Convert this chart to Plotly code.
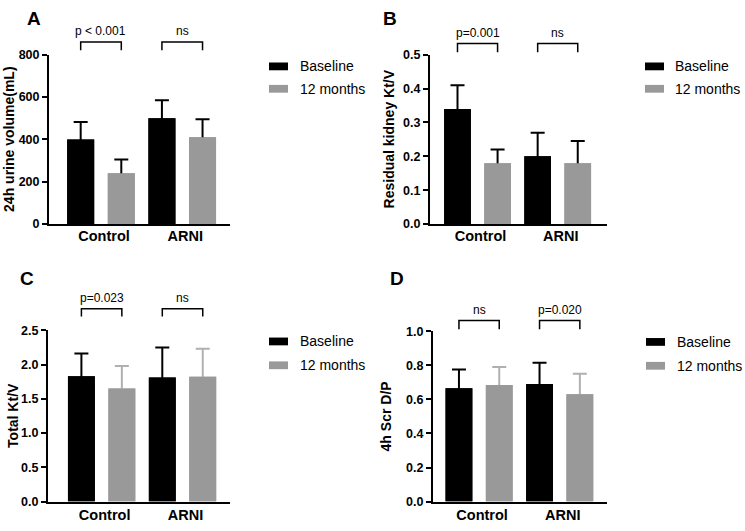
import plotly.graph_objects as go

W, H = 745, 531
FONT = "Arial, 'Liberation Sans', Helvetica, sans-serif"

groups = ["Control", "ARNI"]
series_names = ["Baseline", "12 months"]

# Panel A: 24h urine volume (mL)
a_base = [400, 500]
a_base_sd = [82, 85]
a_12m = [240, 410]
a_12m_sd = [65, 85]
a_pvals = ["p < 0.001", "ns"]
a_ticks = [0, 200, 400, 600, 800]

# Panel B: Residual kidney Kt/V
b_base = [0.34, 0.20]
b_base_sd = [0.07, 0.07]
b_12m = [0.18, 0.18]
b_12m_sd = [0.04, 0.065]
b_pvals = ["p=0.001", "ns"]
b_ticks = [0.0, 0.1, 0.2, 0.3, 0.4, 0.5]

# Panel C: Total Kt/V
c_base = [1.83, 1.81]
c_base_sd = [0.33, 0.44]
c_12m = [1.65, 1.82]
c_12m_sd = [0.33, 0.41]
c_pvals = ["p=0.023", "ns"]
c_ticks = [0.0, 0.5, 1.0, 1.5, 2.0, 2.5]

# Panel D: 4h Scr D/P
d_base = [0.665, 0.69]
d_base_sd = [0.11, 0.125]
d_12m = [0.685, 0.63]
d_12m_sd = [0.105, 0.12]
d_pvals = ["ns", "p=0.020"]
d_ticks = [0.0, 0.2, 0.4, 0.6, 0.8, 1.0]

BLACK = "#000000"
GRAY = "#999999"

panels = [
    dict(letter="A", title="24h urine volume(mL)", base=a_base, base_sd=a_base_sd,
         m12=a_12m, m12_sd=a_12m_sd, pvals=a_pvals, ticks=a_ticks, fmt="d",
         L=49, R=230, T=49, B=223, xr=[-0.64, 1.588], err12=BLACK, xstand=-3,
         letter_xy=(34, 12), title_x=9.5, text_y=24.5, br_top=36, br_bot=44.5,
         leg_x=269, leg_y=(57, 80), txt_x=298),
    dict(letter="B", title="Residual kidney Kt/V", base=b_base, base_sd=b_base_sd,
         m12=b_12m, m12_sd=b_12m_sd, pvals=b_pvals, ticks=b_ticks, fmt=".1f",
         L=430, R=607, T=49, B=223, xr=[-0.593, 1.615], err12=BLACK, xstand=-3,
         letter_xy=(390, 12), title_x=389, text_y=27, br_top=37.5, br_bot=46.5,
         leg_x=645, leg_y=(57, 80), txt_x=673),
    dict(letter="C", title="Total Kt/V", base=c_base, base_sd=c_base_sd,
         m12=c_12m, m12_sd=c_12m_sd, pvals=c_pvals, ticks=c_ticks, fmt=".1f",
         L=48, R=230, T=332, B=508, xr=[-0.663, 1.587], err12="#b0b0b0", xstand=-1,
         letter_xy=(27, 279), title_x=13, text_y=299, br_top=310, br_bot=318,
         leg_x=269, leg_y=(339.5, 364), txt_x=298),
    dict(letter="D", title="4h Scr D/P", base=d_base, base_sd=d_base_sd,
         m12=d_12m, m12_sd=d_12m_sd, pvals=d_pvals, ticks=d_ticks, fmt=".1f",
         L=433, R=607, T=333, B=508, xr=[-0.572, 1.587], err12="#b0b0b0", xstand=-1,
         letter_xy=(397, 279), title_x=386, text_y=311.5, br_top=322, br_bot=331,
         leg_x=646, leg_y=(340, 364.5), txt_x=675),
]

fig = go.Figure()
shapes = []
annotations = []
layout_axes = {}

for i, p in enumerate(panels):
    n = "" if i == 0 else str(i + 1)
    xid, yid = "x" + n, "y" + n
    # bars with error bars (lower half later hidden by identical bars drawn on top)
    for k, (vals, sds, col, ecol) in enumerate([
            (p["base"], p["base_sd"], BLACK, BLACK),
            (p["m12"], p["m12_sd"], GRAY, p["err12"])]):
        fig.add_trace(go.Bar(
            x=groups, y=vals, name=series_names[k], marker_color=col,
            marker_line_width=0, offsetgroup=str(k), xaxis=xid, yaxis=yid,
            showlegend=False,
            error_y=dict(type="data", array=sds, color=ecol, thickness=2, width=7)))
    for k, (vals, col) in enumerate([(p["base"], BLACK), (p["m12"], GRAY)]):
        fig.add_trace(go.Bar(
            x=groups, y=vals, name=series_names[k], marker_color=col,
            marker_line_width=0, offsetgroup=str(k), xaxis=xid, yaxis=yid,
            showlegend=False, hoverinfo="skip"))

    ymax = p["ticks"][-1]
    layout_axes["xaxis" + n] = dict(
        domain=[p["L"] / W, p["R"] / W], range=p["xr"], anchor=yid,
        showline=True, linecolor="black", linewidth=2, ticks="", showgrid=False,
        zeroline=False, type="category", ticklabelstandoff=p["xstand"],
        ticklabelshift=3,
        tickfont=dict(family=FONT, size=14.5, color="black", weight="bold"),
        fixedrange=True)
    layout_axes["yaxis" + n] = dict(
        domain=[1 - p["B"] / H, 1 - p["T"] / H], range=[0, ymax], anchor=xid,
        showline=True, linecolor="black", linewidth=2, ticks="outside", ticklen=5,
        tickwidth=2, tickcolor="black", tickvals=p["ticks"], tickformat=p["fmt"],
        showgrid=False, zeroline=False,
        tickfont=dict(family=FONT, size=12.5, color="black", weight="bold"),
        fixedrange=True)

    # significance brackets (in axis-domain units)
    r0, r1 = p["xr"]
    def xd(v):
        return (v - r0) / (r1 - r0)
    def yd(px):
        return (p["B"] - px) / (p["B"] - p["T"])
    for g, txt in enumerate(p["pvals"]):
        xa, xb = xd(g - 0.25), xd(g + 0.25)
        shapes.append(dict(
            type="path", xref=xid + " domain", yref=yid + " domain",
            path=f"M {xa},{yd(p['br_bot'])} L {xa},{yd(p['br_top'])} L {xb},{yd(p['br_top'])} L {xb},{yd(p['br_bot'])}",
            line=dict(color="black", width=1.5)))
        annotations.append(dict(
            x=xd(g), y=yd(p["text_y"]), xref=xid + " domain", yref=yid + " domain",
            text=txt, showarrow=False, xanchor="center", yanchor="middle",
            font=dict(family=FONT, size=12, color="black")))

    # panel letter
    lx, ly = p["letter_xy"]
    annotations.append(dict(
        x=lx / W, y=1 - ly / H, xref="paper", yref="paper", text="<b>" + p["letter"] + "</b>",
        showarrow=False, xanchor="center", yanchor="middle",
        font=dict(family=FONT, size=19, color="black")))
    # y-axis title
    annotations.append(dict(
        x=p["title_x"] / W, y=1 - (p["T"] + p["B"]) / 2 / H, xref="paper", yref="paper",
        text="<b>" + p["title"] + "</b>", textangle=-90, showarrow=False,
        xanchor="center", yanchor="middle",
        font=dict(family=FONT, size=14, color="black")))
    # legend
    for k, (nm, col) in enumerate(zip(series_names, [BLACK, GRAY])):
        y0 = p["leg_y"][k]
        shapes.append(dict(
            type="rect", xref="paper", yref="paper",
            x0=p["leg_x"] / W, x1=(p["leg_x"] + 19) / W,
            y0=1 - (y0 + 8) / H, y1=1 - y0 / H,
            fillcolor=col, line=dict(width=0)))
        annotations.append(dict(
            x=p["txt_x"] / W, y=1 - (y0 + 4) / H, xref="paper", yref="paper",
            text=nm, showarrow=False, xanchor="left", yanchor="middle",
            font=dict(family=FONT, size=14, color="black")))

fig.update_layout(
    width=W, height=H,
    margin=dict(l=0, r=0, t=0, b=0),
    paper_bgcolor="white", plot_bgcolor="white",
    barmode="group", bargap=0.0, bargroupgap=0.335,
    showlegend=False,
    shapes=shapes, annotations=annotations,
    **layout_axes,
)

fig.write_html("out.html", config={"displayModeBar": False},
               post_script="document.body.style.margin='0px';document.body.style.overflow='hidden';")
